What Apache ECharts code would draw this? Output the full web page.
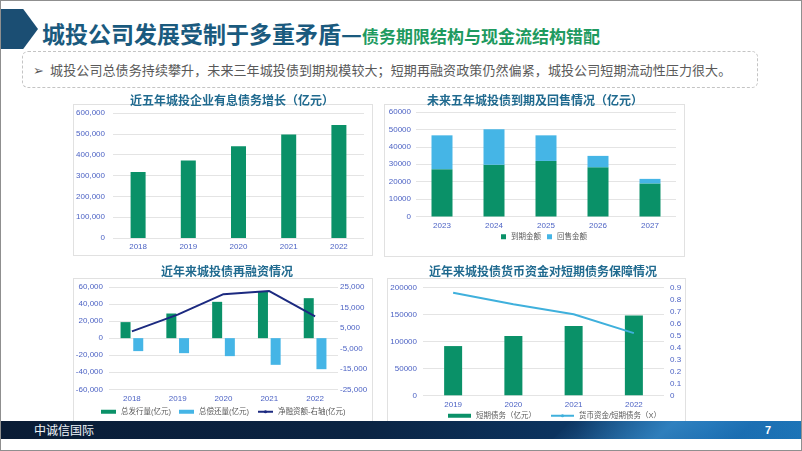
<!DOCTYPE html>
<html>
<head>
<meta charset="utf-8">
<script src="https://cdn.jsdelivr.net/npm/echarts@6/dist/echarts.min.js"></script>
<style>
  html, body { margin: 0; padding: 0; background: #fff; }
  #slide {
    position: relative; width: 802px; height: 451px; overflow: hidden;
    box-sizing: border-box; border: 1px solid #8f8f8f; background: #fff;
    font-family: "Noto Sans CJK SC", sans-serif;
  }
  .arrow {
    position: absolute; left: 0; top: 8px; width: 37px; height: 40px; background: #1b4e73;
    clip-path: polygon(0 0, 60% 0, 100% 50%, 60% 100%, 0 100%);
  }
  .head {
    position: absolute; left: 41px; top: 16px; height: 32px; line-height: 32px;
    white-space: nowrap; font-weight: bold;
  }
  .head .main { font-size: 23px; color: #1a5a7e; }
  .head .sub { font-size: 17px; color: #1e9a5f; }
  .note {
    position: absolute; left: 21px; top: 50px; width: 736px; height: 37px;
    box-sizing: border-box; border: 1px dashed #c4c4c4; border-radius: 6px;
  }
  .note span {
    position: absolute; left: 10px; top: 0; line-height: 36px; font-size: 13px;
    color: #595959; white-space: nowrap; letter-spacing: 0.1px;
  }
  .card { position: absolute; background: #fff; border: 1px solid #e1e1e1; box-sizing: border-box; }
  .foot {
    position: absolute; left: 0; right: 0; top: 420px; height: 18px; overflow: hidden;
    background: linear-gradient(90deg, #0a1c35 0%, #0b2443 45%, #0c3562 72%, #1566a6 88%, #1c74b6 100%);
  }
  .foot .swoosh {
    position: absolute; left: 560px; top: -10px; width: 260px; height: 40px;
    background: linear-gradient(100deg, rgba(60,150,220,0) 0%, rgba(70,160,225,0.55) 40%, rgba(40,120,200,0.2) 70%, rgba(30,110,190,0) 100%);
    transform: skewX(-45deg);
  }
  .foot .name { position: absolute; left: 33px; top: 0; line-height: 18px; font-size: 12px; color: #eef3f8; }
  .foot .page { position: absolute; left: 764px; top: 0; line-height: 18px; font-size: 11px; font-weight: bold; color: #fff; font-family: "Liberation Sans", sans-serif; }
  #chart { position: absolute; left: 0; top: 0; width: 802px; height: 451px; }
</style>
</head>
<body>
<div id="slide">
  <div class="arrow"></div>
  <div class="head"><span class="main">城投公司发展受制于多重矛盾—</span><span class="sub">债务期限结构与现金流结构错配</span></div>
  <div class="note"><span>➢&nbsp;&nbsp;城投公司总债务持续攀升，未来三年城投债到期规模较大；短期再融资政策仍然偏紧，城投公司短期流动性压力很大。</span></div>
  <div class="card" style="left:72px;top:103px;width:300px;height:152px"></div>
  <div class="card" style="left:383px;top:103px;width:301px;height:153px"></div>
  <div class="card" style="left:72px;top:277px;width:300px;height:147px"></div>
  <div class="card" style="left:386px;top:277px;width:299px;height:147px"></div>
  <div class="foot"><div class="swoosh"></div><span class="name">中诚信国际</span><span class="page">7</span></div>
  <div id="chart"></div>
</div>
<script>
// 近五年城投企业有息债务增长（亿元）
const debtYears = ["2018", "2019", "2020", "2021", "2022"];
const debtValues = [317000, 372000, 441000, 497000, 542000];

// 未来五年城投债到期及回售情况（亿元）
const maturityYears = ["2023", "2024", "2025", "2026", "2027"];
const maturityValues = [27200, 29700, 31900, 28300, 19000];
const putbackValues = [19400, 20400, 14700, 6500, 2600];

// 近年来城投债再融资情况
const refiYears = ["2018", "2019", "2020", "2021", "2022"];
const issuanceValues = [18800, 28900, 42600, 55000, 46900];
const repaymentValues = [-15200, -17600, -21100, -31300, -36400];
const netFinancingValues = [3300, 11500, 21500, 23000, 10600];

// 近年来城投债货币资金对短期债务保障情况
const coverYears = ["2019", "2020", "2021", "2022"];
const shortDebtValues = [91500, 110000, 128800, 148500];
const coverRatioValues = [0.857, 0.762, 0.678, 0.52];

const GREEN = "#0a9168";
const LIGHT_BLUE = "#45b5e6";
const NAVY = "#1c2a80";
const LINE_BLUE = "#3fb0dc";
const LABEL = "#4d63c4";
const GRID = "#e4e4e4";
const FONT = "'Liberation Sans', 'Noto Sans CJK SC', sans-serif";

const withComma = (v) => Number(v).toLocaleString("en-US");
const plain = (v) => String(v);

const catAxis = (gridIndex, data) => ({
  type: "category",
  gridIndex,
  data,
  axisLine: { show: false, onZero: false },
  axisTick: { show: false },
  axisLabel: { color: LABEL, fontSize: 8, fontFamily: FONT, margin: 5 },
});

const valAxis = (gridIndex, min, max, interval, opts = {}) => ({
  type: "value",
  gridIndex,
  min,
  max,
  interval,
  position: opts.position || "left",
  axisLine: { show: false },
  axisTick: { show: false },
  splitLine: { show: opts.split !== false, lineStyle: { color: GRID, width: 1 } },
  axisLabel: {
    color: LABEL,
    fontSize: 8,
    fontFamily: FONT,
    margin: opts.margin || 6,
    formatter: opts.formatter || plain,
  },
});

const chartTitle = (text, x, y) => ({
  type: "text",
  x,
  y,
  style: {
    text,
    fill: "#206a8f",
    font: "bold 12px 'Noto Sans CJK SC', sans-serif",
    textAlign: "center",
    textVerticalAlign: "middle",
  },
});

const legendText = { fontSize: 7.5, color: "#5a5a5a", fontFamily: FONT };

const chart = echarts.init(document.getElementById("chart"));

const option = {
  animation: false,
  backgroundColor: "transparent",
  textStyle: { fontFamily: FONT },
  graphic: [
    chartTitle("近五年城投企业有息债务增长（亿元）", 231, 99),
    chartTitle("未来五年城投债到期及回售情况（亿元）", 534, 99),
    chartTitle("近年来城投债再融资情况", 226, 270),
    chartTitle("近年来城投债货币资金对短期债务保障情况", 542, 270),
  ],
  grid: [
    { left: 112, top: 112, width: 251, height: 125 },
    { left: 415, top: 111, width: 260, height: 104.5 },
    { left: 108, top: 286, width: 229, height: 102.3 },
    { left: 422, top: 286.7, width: 241, height: 107.6 },
  ],
  xAxis: [
    catAxis(0, debtYears),
    catAxis(1, maturityYears),
    catAxis(2, refiYears),
    catAxis(3, coverYears),
  ],
  yAxis: [
    valAxis(0, 0, 600000, 100000, { formatter: withComma, margin: 8 }),
    valAxis(1, 0, 60000, 10000, { margin: 5 }),
    valAxis(2, -60000, 60000, 20000, { formatter: withComma }),
    valAxis(2, -25000, 25000, 10000, { position: "right", split: false, formatter: withComma, margin: 2 }),
    valAxis(3, 0, 200000, 50000),
    valAxis(3, 0, 0.9, 0.1, { position: "right", split: false, margin: 6 }),
  ],
  legend: [
    {
      data: ["到期金额", "回售金额"],
      left: 500,
      top: 232,
      padding: 0,
      icon: "rect",
      itemWidth: 5,
      itemHeight: 5,
      itemGap: 6,
      textStyle: legendText,
    },
    {
      data: [
        { name: "总发行量(亿元)", icon: "rect" },
        { name: "总偿还量(亿元)", icon: "rect" },
        "净融资额-右轴(亿元)",
      ],
      left: 100,
      top: 407,
      padding: 0,
      itemWidth: 15,
      itemHeight: 4,
      itemGap: 8,
      textStyle: legendText,
    },
    {
      data: [{ name: "短期债务（亿元）", icon: "rect" }, "货币资金/短期债务（X）"],
      left: 447,
      top: 411,
      padding: 0,
      itemWidth: 23,
      itemHeight: 4,
      itemGap: 14,
      textStyle: legendText,
    },
  ],
  series: [
    {
      name: "有息债务",
      type: "bar",
      xAxisIndex: 0,
      yAxisIndex: 0,
      data: debtValues,
      barWidth: 15,
      itemStyle: { color: GREEN },
    },
    {
      name: "到期金额",
      type: "bar",
      stack: "maturity",
      xAxisIndex: 1,
      yAxisIndex: 1,
      data: maturityValues,
      barWidth: 21,
      itemStyle: { color: GREEN },
    },
    {
      name: "回售金额",
      type: "bar",
      stack: "maturity",
      xAxisIndex: 1,
      yAxisIndex: 1,
      data: putbackValues,
      barWidth: 21,
      itemStyle: { color: LIGHT_BLUE },
    },
    {
      name: "总发行量(亿元)",
      type: "bar",
      xAxisIndex: 2,
      yAxisIndex: 2,
      data: issuanceValues,
      barWidth: 10,
      barGap: "27%",
      itemStyle: { color: GREEN },
    },
    {
      name: "总偿还量(亿元)",
      type: "bar",
      xAxisIndex: 2,
      yAxisIndex: 2,
      data: repaymentValues,
      barWidth: 10,
      barGap: "27%",
      itemStyle: { color: LIGHT_BLUE },
    },
    {
      name: "净融资额-右轴(亿元)",
      type: "line",
      xAxisIndex: 2,
      yAxisIndex: 3,
      data: netFinancingValues,
      symbol: "none",
      lineStyle: { color: NAVY, width: 2 },
      itemStyle: { color: NAVY },
    },
    {
      name: "短期债务（亿元）",
      type: "bar",
      xAxisIndex: 3,
      yAxisIndex: 4,
      data: shortDebtValues,
      barWidth: 18,
      itemStyle: { color: GREEN },
    },
    {
      name: "货币资金/短期债务（X）",
      type: "line",
      xAxisIndex: 3,
      yAxisIndex: 5,
      data: coverRatioValues,
      symbol: "none",
      lineStyle: { color: LINE_BLUE, width: 2 },
      itemStyle: { color: LINE_BLUE },
    },
  ],
};

chart.setOption(option);
</script>
</body>
</html>
